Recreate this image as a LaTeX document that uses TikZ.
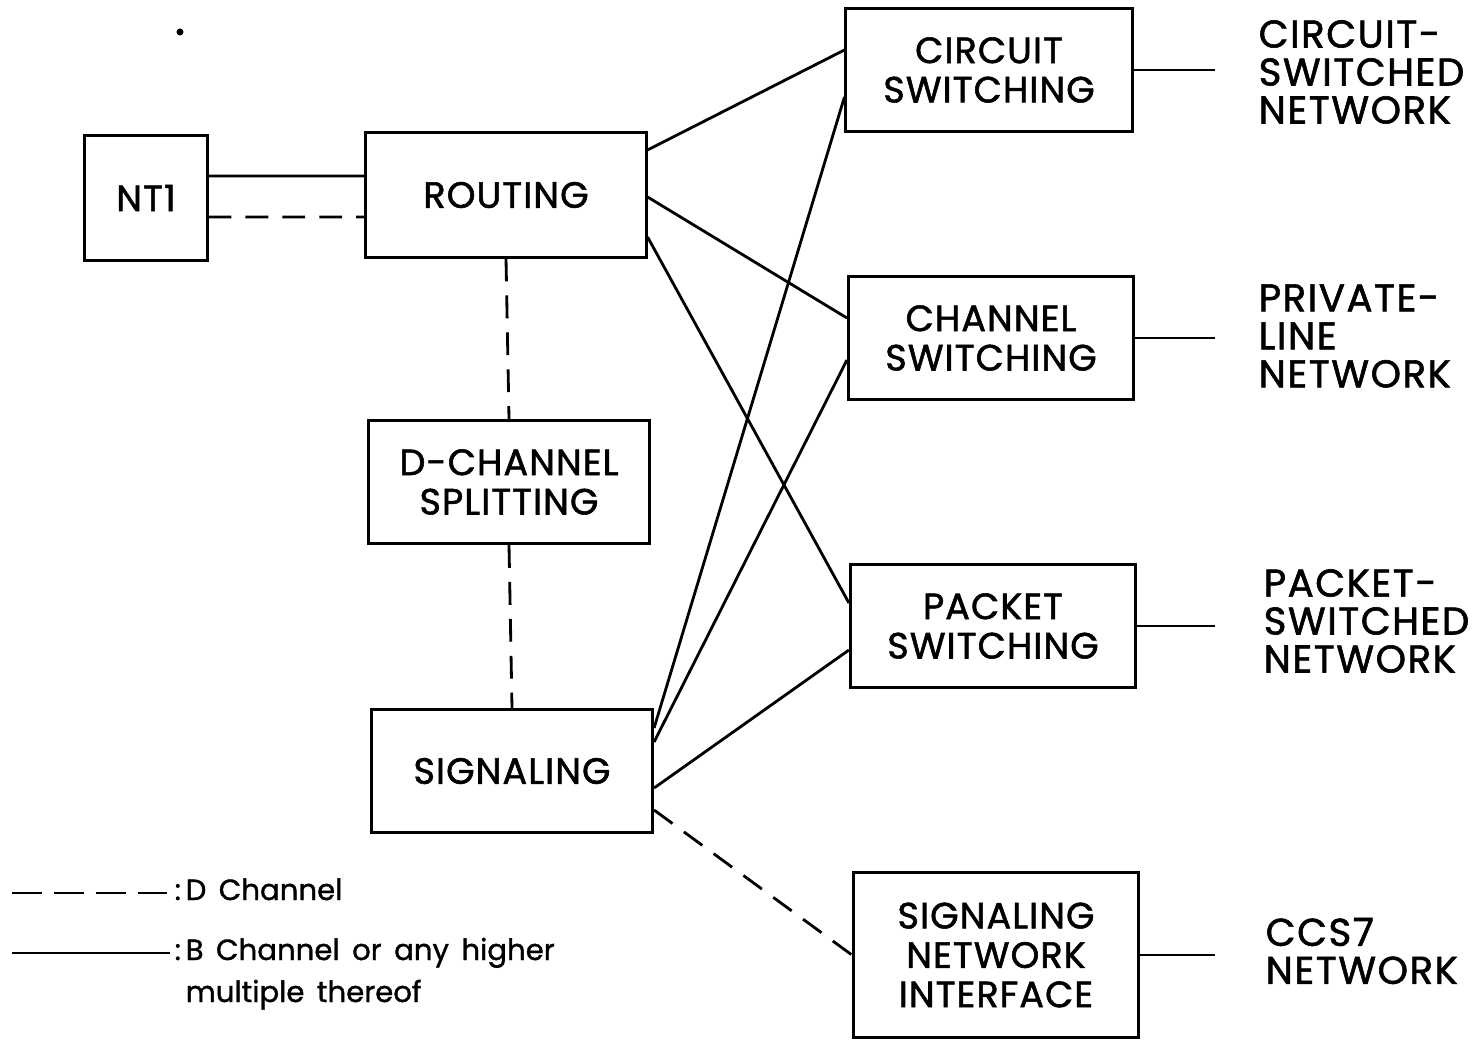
\documentclass[tikz,border=0pt]{standalone}
\usepackage{fontspec}
\setmainfont{Poppins}[FakeBold=1.2]
\newfontfamily\boxfont{Poppins}[LetterSpace=3,FakeBold=1.5]
\newfontfamily\lblfont{Poppins}[LetterSpace=4,FakeBold=1.5]
\newfontfamily\legfont{Poppins}[WordSpace=1.6,FakeBold=1.2]
\begin{document}
\begin{tikzpicture}[x=0.01cm,y=-0.01cm,
  blk/.style={draw, line width=0.85pt, inner sep=0pt, align=center, font=\boxfont\fontsize{10.4}{11.2}\selectfont},
  bl/.style={line width=0.8pt},
  dl/.style={line width=0.8pt, dash pattern=on 6.5pt off 4pt},
  lbl/.style={anchor=west, inner sep=0pt, align=left, font=\lblfont\fontsize{11}{10.8}\selectfont},
  leg/.style={anchor=base west, inner sep=0pt, font=\legfont\fontsize{8.3}{12}\selectfont}]
\useasboundingbox (0,0) rectangle (1477,1040);

% boxes
\node[blk, minimum width=1.22cm, minimum height=1.24cm] (nt1) at (146,198) {NT1};
\node[blk, minimum width=2.80cm, minimum height=1.24cm] (rout) at (506,195) {ROUTING};
\node[blk, minimum width=2.81cm, minimum height=1.23cm] (dch) at (509,482) {D-CHANNEL\\SPLITTING};
\node[blk, minimum width=2.81cm, minimum height=1.23cm] (sig) at (512,771) {SIGNALING};
\node[blk, minimum width=2.86cm, minimum height=1.23cm] (circ) at (989,70) {CIRCUIT\\SWITCHING};
\node[blk, minimum width=2.85cm, minimum height=1.23cm] (chan) at (991,338) {CHANNEL\\SWITCHING};
\node[blk, minimum width=2.85cm, minimum height=1.23cm] (pack) at (993,626) {PACKET\\SWITCHING};
\node[blk, minimum width=2.85cm, minimum height=1.65cm] (sni) at (996,955) {SIGNALING\\NETWORK\\INTERFACE};

% NT1 - routing
\draw[bl] ([yshift=0.22cm]nt1.east) -- ([yshift=0.19cm]rout.west);
\draw[dl] ([yshift=-0.19cm]nt1.east) -- ([yshift=-0.22cm]rout.west);

% D channel chain
\draw[dl] (rout.south) -- (dch.north);
\draw[dl] (dch.south) -- (sig.north);

% routing to switches
\draw[bl] ([yshift=0.45cm]rout.east) -- ([yshift=0.20cm]circ.west);
\draw[bl] ([yshift=-0.02cm]rout.east) -- ([yshift=0.20cm]chan.west);
\draw[bl] ([yshift=-0.42cm]rout.east) -- ([yshift=0.23cm]pack.west);

% signaling to switches
\draw[bl] ([yshift=0.43cm]sig.east) -- ([yshift=-0.27cm]circ.west);
\draw[bl] ([yshift=0.29cm]sig.east) -- ([yshift=-0.22cm]chan.west);
\draw[bl] ([yshift=-0.17cm]sig.east) -- ([yshift=-0.24cm]pack.west);
\draw[dl] ([yshift=-0.39cm]sig.east) -- (sni.west);

% outgoing lines
\coordinate (ce) at (1215,70);
\coordinate (he) at (1215,338);
\coordinate (pe) at (1215,626);
\coordinate (se) at (1215,955);
\draw[bl] (circ.east) -- (ce);
\draw[bl] (chan.east) -- (he);
\draw[bl] (pack.east) -- (pe);
\draw[bl] (sni.east) -- (se);

% network labels
\node[lbl] (lc) at (1258,72) {CIRCUIT-\\SWITCHED\\NETWORK};
\node[lbl] (lp) at (1258,336) {PRIVATE-\\LINE\\NETWORK};
\node[lbl] (lk) at (1263,621) {PACKET-\\SWITCHED\\NETWORK};
\node[lbl] (ls) at (1265,951) {CCS7\\NETWORK};

% legend
\coordinate (d1) at (12,893);
\coordinate (d2) at (170,893);
\coordinate (b1) at (12,953);
\coordinate (b2) at (170,953);
\draw[line width=0.5pt, dash pattern=on 8.5pt off 3.4pt] (d1) -- (d2);
\draw[line width=0.5pt] (b1) -- (b2);
\node[leg] (c1) at (174,900) {:};
\node[leg] (dt) at (185,900) {D Channel};
\node[leg] (c2) at (174,960) {:};
\node[leg] (bt) at (185,960) {B Channel or any higher};
\node[leg] (bt2) at (185,1002) {multiple thereof};

% stray dot
\fill (180,32) circle[radius=0.035cm];
\end{tikzpicture}
\end{document}
